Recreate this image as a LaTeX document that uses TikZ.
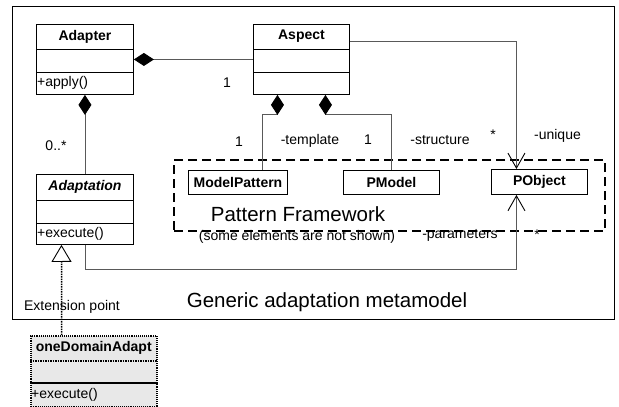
\documentclass[tikz,border=0pt]{standalone}
\usepackage{fontspec}
\setmainfont{Liberation Sans}
\usetikzlibrary{arrows.meta,calc}
\begin{document}
\begin{tikzpicture}[x=1pt,y=-1pt,
  box/.style={draw,line width=0.9pt,inner sep=0pt,anchor=north west},
  sep/.style={line width=0.9pt},
  lbl/.style={font=\fontsize{14}{16}\selectfont,inner sep=0pt},
  ttl/.style={font=\fontsize{14}{16}\selectfont\bfseries,inner sep=0pt},
  big/.style={font=\fontsize{20.5}{22}\selectfont,inner sep=0pt},
  op/.style={font=\fontsize{14}{16}\selectfont,inner sep=0pt,anchor=west},
  conn/.style={line width=0.9pt,draw=black!65},
  comp/.style={{Diamond[length=20pt,width=13pt,color=black]}-},
  nav/.style={-{Straight Barb[length=15pt,width=17pt,line width=0.9pt,color=black]}},
  gen/.style={-{Triangle[open,length=17pt,width=20pt,fill=white,line width=0.9pt,color=black]}}
]
\useasboundingbox (0,0) rectangle (619,407);
\fill[white] (0,0) rectangle (619,407);
% outer frame
\node[draw,line width=1.3pt,inner sep=0pt,anchor=north west,minimum width=602pt,minimum height=313pt] (frame) at (12,6) {};
% dashed frame
\node[draw,line width=2.2pt,dash pattern=on 9pt off 5pt,inner sep=0pt,anchor=north west,minimum width=431pt,minimum height=71pt] (pf) at (173,159) {};
% Adapter
\node[box,minimum width=97pt,minimum height=70pt] (adapter) at (36,24) {};
\draw[sep] (adapter.west |- 0,49) -- (adapter.east |- 0,49);
\draw[sep] (adapter.west |- 0,72) -- (adapter.east |- 0,72);
\node[ttl] (adaptert) at ($(adapter.north)+(0,12.5)$) {Adapter};
\node[op] (adapterop) at (37,83) {+apply()};
% Aspect
\node[box,minimum width=96pt,minimum height=70pt] (aspect) at (253,24) {};
\draw[sep] (aspect.west |- 0,49) -- (aspect.east |- 0,49);
\draw[sep] (aspect.west |- 0,72) -- (aspect.east |- 0,72);
\node[ttl] (aspectt) at ($(aspect.north)+(0,12.5)$) {Aspect};
% Adaptation
\node[box,minimum width=97pt,minimum height=70pt] (adaptation) at (36,174) {};
\draw[sep] (adaptation.west |- 0,200) -- (adaptation.east |- 0,200);
\draw[sep] (adaptation.west |- 0,223) -- (adaptation.east |- 0,223);
\node[ttl,font=\fontsize{14}{16}\selectfont\bfseries\itshape] (adaptationt) at ($(adaptation.north)+(0,13)$) {Adaptation};
\node[op] (adaptationop) at (37,233.5) {+execute()};
% oneDomainAdapt
\node[box,fill=black!9,densely dotted,line width=1.5pt,minimum width=126pt,minimum height=71pt] (onedomain) at (30,335) {};
\draw[densely dotted,line width=1.5pt] (onedomain.west |- 0,361) -- (onedomain.east |- 0,361);
\draw[line width=1.1pt] (onedomain.west |- 0,383) -- (onedomain.east |- 0,383);
\node[ttl] (onedomaint) at ($(onedomain.north)+(0,13)$) {oneDomainAdapt};
\node[op] (onedomainop) at (31,394.5) {+execute()};
% pattern classes
\node[box,minimum width=99pt,minimum height=24pt] (modelpattern) at (188,170) {};
\node[ttl] (modelpatternt) at (modelpattern.center) {ModelPattern};
\node[box,minimum width=96pt,minimum height=24pt] (pmodel) at (343,170) {};
\node[ttl] (pmodelt) at (pmodel.center) {PModel};
\node[box,minimum width=96pt,minimum height=25pt] (pobject) at (491,169) {};
\node[ttl] (pobjectt) at (pobject.center) {PObject};
% connectors
\draw[conn,comp] (adapter.east) -- (aspect.west);
\draw[conn,comp] (adapter.south) -- (adaptation.north);
\draw[conn,comp] ([xshift=-24pt]aspect.south) -- ++(0,20) -| ([xshift=24.5pt]modelpattern.north);
\draw[conn,comp] ([xshift=24pt]aspect.south) -- ++(0,20) -| (pmodel.north);
\draw[conn,nav] ([yshift=18pt]aspect.east) -| ([xshift=-23pt]pobject.north);
\draw[conn,nav] (adaptation.south) -- ++(0,25) -| ([xshift=-23pt]pobject.south);
\draw[gen,densely dotted,line width=1.5pt] ([xshift=-32pt]onedomain.north) -- ([xshift=-23.5pt]adaptation.south);
% labels
\node[lbl] (l1) at (227,83) {1};
\node[lbl] (l0) at (56,146) {0..*};
\node[lbl] (l2) at (239,142) {1};
\node[lbl] (ltemp) at (310,141) {-template};
\node[lbl] (l3) at (368,140) {1};
\node[lbl] (lstruct) at (440,140) {-structure};
\node[lbl] (lstar1) at (493,135) {*};
\node[lbl] (luniq) at (557.5,136) {-unique};
\node[lbl] (lparam) at (460,235) {-parameters};
\node[lbl] (lstar2) at (537,235) {*};
\node[big] (pft) at (298,214) {Pattern Framework};
\node[lbl] (pfs) at (297,237) {(some elements are not shown)};
\node[big] (gam) at (327,302) {Generic adaptation metamodel};
\node[lbl] (ext) at (72,307) {Extension point};
\end{tikzpicture}
\end{document}
